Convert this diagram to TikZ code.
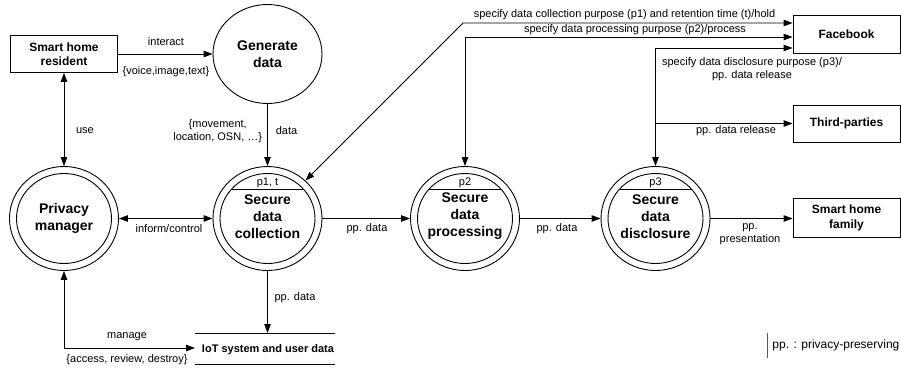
\documentclass[tikz,border=0pt]{standalone}
\usepackage{fontspec}
\setmainfont{Liberation Sans}
\usetikzlibrary{arrows.meta,shapes.geometric}
\begin{document}
\begin{tikzpicture}[x=1pt,y=-1pt, line width=0.9pt,
  >={Triangle[length=9pt,width=6.5pt]},
  lbl/.style={font=\fontsize{11}{12.8}\selectfont, inner sep=0pt, align=center},
  ent/.style={draw, minimum width=107pt, minimum height=37pt, inner sep=0pt,
    font=\fontsize{12}{14.5}\selectfont\bfseries, align=center},
  proc/.style={draw, ellipse, minimum width=109pt, minimum height=104pt, inner sep=0pt},
  ptext/.style={font=\fontsize{14}{17}\selectfont\bfseries, align=center, inner sep=0pt},
  inner/.style={x radius=47.5pt, y radius=45pt},
]
\useasboundingbox (0,0) rectangle (901,370);

% external entities
\node[ent] (res) at (64,54) {Smart home\\resident};
\node[ent, minimum height=38pt] (fb) at (846.5,34) {Facebook};
\node[ent] (tp) at (846.5,123.5) {Third-parties};
\node[ent, minimum height=39pt] (fam) at (846.5,218) {Smart home\\family};

% generate data
\node[draw, ellipse, minimum width=109pt, minimum height=99pt, inner sep=0pt,
  font=\fontsize{14}{17.5}\selectfont\bfseries, align=center] (gen) at (267.5,54) {Generate\\data};

% processes
\node[proc] (pm) at (64,218.5) {};
\draw (pm.center) ellipse [inner];
\node[ptext] (pmt) at (64,218) {Privacy\\manager};

\node[proc] (col) at (267.5,218.5) {};
\draw (col.center) ellipse [inner];
\draw ([shift={(-36,-29.5)}]col.center) -- ++(72,0);
\node[lbl] (colp) at ([shift={(0,-35.5)}]col.center) {p1, t};
\node[ptext] (colt) at ([shift={(0,-2)}]col.center) {Secure\\data\\collection};

\node[proc] (proc) at (465,218.5) {};
\draw (proc.center) ellipse [inner];
\draw ([shift={(-36,-29.5)}]proc.center) -- ++(72,0);
\node[lbl] (procp) at ([shift={(0,-35.5)}]proc.center) {p2};
\node[ptext] (proct) at ([shift={(0,-2)}]proc.center) {Secure\\data\\processing};

\node[proc] (dis) at (655.5,218.5) {};
\draw (dis.center) ellipse [inner];
\draw ([shift={(-36,-29.5)}]dis.center) -- ++(72,0);
\node[lbl] (disp) at ([shift={(0,-35.5)}]dis.center) {p3};
\node[ptext] (dist) at ([shift={(0,-2)}]dis.center) {Secure\\data\\disclosure};

% data store
\coordinate (iotTL) at (195,333);
\coordinate (iotTR) at (335,333);
\coordinate (iotBL) at (195,364);
\coordinate (iotBR) at (335,364);
\coordinate (iotL) at (195,348);
\draw (iotTL) -- (iotTR);
\draw (iotBL) -- (iotBR);
\node[font=\fontsize{11}{13}\selectfont\bfseries, inner sep=0pt] (iot) at (268,349.5) {IoT system and user data};

% connectors
\draw[->] (res.east) -- (gen.west);
\node[lbl] (l1) at (166,42) {interact};
\node[lbl] (l2) at (166,72) {\{voice,image,text\}};

\draw[<->] (res.south) -- (pm.north);
\node[lbl] (l3) at (85,131) {use};

\draw[->] (gen.south) -- (col.north);
\node[lbl] (l4) at (286.5,131) {data};
\node[lbl, anchor=east] (l5) at (262.5,131.5) {\{movement,\\location, OSN, …\}};

\draw[<->] (pm.east) -- (col.west);
\node[lbl] (l6) at (169,229) {inform/control};

\draw[->] (col.east) -- (proc.west);
\node[lbl] (l7) at (367,229) {pp. data};

\draw[->] (proc.east) -- (dis.west);
\node[lbl] (l8) at (557,229) {pp. data};

\draw[->] (dis.east) -- (dis.east -| fam.west);
\node[lbl] (l9) at (750,234.5) {pp.\\presentation};

\draw[->] (col.south) -- (col.south |- iotTL);
\node[lbl] (l10) at (295,298) {pp. data};

\draw[<->] (pm.south) |- (iotL);
\node[lbl] (l11) at (127,337) {manage};
\node[lbl] (l12) at (127,360) {\{access, review, destroy\}};

% to Facebook
\coordinate (k1) at (463,23);
\coordinate (y2) at (0,37);
\coordinate (y3) at (0,48);
\draw[<->] (col) -- (k1) -- (k1 -| fb.west);
\node[lbl] (l13) at (624.5,15) {specify data collection purpose (p1) and retention time (t)/hold};

\draw[<->] (proc.north) |- (y2 -| fb.west);
\node[lbl] (l14) at (635,30) {specify data processing purpose (p2)/process};

\draw[<->] (dis.north) |- (y3 -| fb.west);
\node[lbl, font=\fontsize{11}{12.5}\selectfont] (l15) at (752,69) {specify data disclosure purpose (p3)/\\pp. data release};

\draw[->] (dis.north |- tp.west) -- (tp.west);
\node[lbl] (l16) at (736,131) {pp. data release};

% legend
\coordinate (legA) at (767,333);
\coordinate (legB) at (767,358);
\draw[black!65] (legA) -- (legB);
\node[lbl, anchor=west, font=\fontsize{12}{14}\selectfont] (leg) at (772,345.5) {pp. : privacy-preserving};
\end{tikzpicture}
\end{document}
